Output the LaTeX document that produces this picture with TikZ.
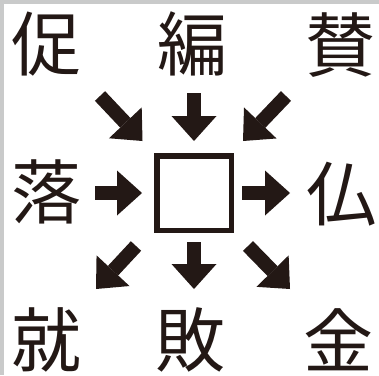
\documentclass[tikz,border=0pt]{standalone}
\usepackage{fontspec}
\newfontfamily\cjk{Noto Sans CJK JP}
\usetikzlibrary{arrows.meta}
\definecolor{ink}{HTML}{231815}
\definecolor{frame}{HTML}{C9CACA}
\tikzset{
  kanji/.style={inner sep=0pt, text=ink, font=\cjk\fontsize{70}{70}\selectfont},
  bigarrow/.style={draw=ink, line width=14pt, -{Triangle[width=45pt,length=25pt,line width=0pt]}},
  answerbox/.style={draw=ink, line width=5.5pt, minimum size=74.5pt, inner sep=0pt}
}
\begin{document}
\begin{tikzpicture}[x=1pt,y=-1pt]
\useasboundingbox (0,0) rectangle (379,375);
\fill[white] (0,0) rectangle (379,375);
\fill[frame] (0,0) rectangle (379,4);
\fill[frame] (0,0) rectangle (4,375);
% kanji
\node[kanji] (k1) at (47,44) {促};
\node[kanji] (k2) at (192,44) {編};
\node[kanji] (k3) at (340,45) {賛};
\node[kanji] (k4) at (47,192) {落};
\node[kanji] (k5) at (341,194) {仏};
\node[kanji] (k6) at (47,340) {就};
\node[kanji] (k7) at (190,340) {敗};
\node[kanji] (k8) at (338,340) {金};
% box
\node[answerbox] (box) at (194,193) {};
% arrow ends
\coordinate (t1) at (100,96);   \coordinate (h1) at (142.5,141);
\coordinate (t2) at (194,93);   \coordinate (h2) at (194,141);
\coordinate (t3) at (286,96);   \coordinate (h3) at (243,141);
\coordinate (t4) at (95,193);   \coordinate (h4) at (142,193);
\coordinate (t5) at (242,193);  \coordinate (h5) at (290,193);
\coordinate (t6) at (136,246);  \coordinate (h6) at (96,289);
\coordinate (t7) at (194,242);  \coordinate (h7) at (194,289);
\coordinate (t8) at (248,246);  \coordinate (h8) at (290,289);
\foreach \i in {1,...,8} { \draw[bigarrow] (t\i) -- (h\i); }
\end{tikzpicture}
\end{document}
